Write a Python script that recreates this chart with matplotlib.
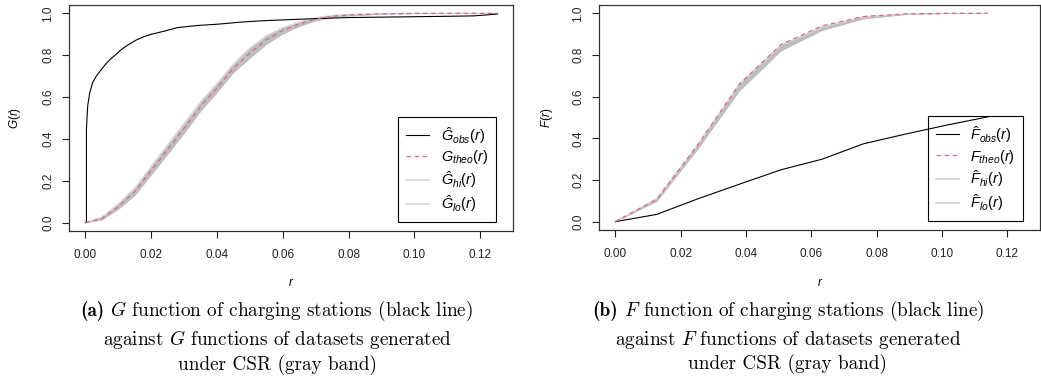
import numpy as np
import matplotlib
matplotlib.use('Agg')
import matplotlib.pyplot as plt
from matplotlib.font_manager import FontProperties
from matplotlib.lines import Line2D

plt.rcParams['font.family'] = ['Liberation Sans', 'DejaVu Sans']
plt.rcParams['mathtext.fontset'] = 'custom'
plt.rcParams['mathtext.rm'] = 'Liberation Sans'
plt.rcParams['mathtext.it'] = 'Liberation Sans:italic'
plt.rcParams['mathtext.bf'] = 'Liberation Sans:bold'

# ---- G function (nearest-neighbour distances) ----
g_obs_r = [0, 0.0003, 0.0003, 0.0007, 0.0013, 0.0022, 0.0033, 0.0045, 0.006, 0.0075,
           0.009, 0.011, 0.013, 0.0155, 0.018, 0.02, 0.024, 0.028, 0.034, 0.04,
           0.047, 0.054, 0.062, 0.07, 0.08, 0.09, 0.1, 0.11, 0.118, 0.1215, 0.1253]
g_obs = [0, 0, 0.45, 0.56, 0.62, 0.67, 0.70, 0.725, 0.755, 0.78,
         0.80, 0.828, 0.85, 0.873, 0.89, 0.9, 0.915, 0.932, 0.942, 0.948,
         0.958, 0.965, 0.97, 0.975, 0.98, 0.982, 0.984, 0.986, 0.988, 0.992, 0.997]

g_r    = [0, 0.005, 0.01, 0.015, 0.02, 0.025, 0.03, 0.035, 0.04, 0.045, 0.05,
          0.055, 0.06, 0.065, 0.07, 0.075, 0.08, 0.09, 0.1, 0.1253]
g_theo = [0, 0.02, 0.077, 0.148, 0.25, 0.35, 0.45, 0.555, 0.643, 0.738, 0.81,
          0.874, 0.919, 0.95, 0.973, 0.986, 0.992, 0.998, 1.0, 1.0]
g_hi   = [0, 0.027, 0.09, 0.166, 0.27, 0.373, 0.474, 0.578, 0.665, 0.758, 0.835,
          0.893, 0.932, 0.959, 0.979, 0.99, 0.995, 0.999, 1.0, 1.0]
g_lo   = [0, 0.013, 0.064, 0.13, 0.228, 0.327, 0.427, 0.532, 0.622, 0.717, 0.786,
          0.852, 0.902, 0.938, 0.965, 0.98, 0.988, 0.996, 0.999, 1.0]

# ---- F function (empty space) ----
f_r    = [0, 0.0127, 0.0253, 0.038, 0.0507, 0.0633, 0.076, 0.0887, 0.1013, 0.114]
f_obs  = [0, 0.035, 0.11, 0.18, 0.249, 0.30, 0.374, 0.42, 0.463, 0.503]
f_theo = [0, 0.107, 0.37, 0.66, 0.85, 0.94, 0.985, 0.997, 1.0, 1.0]
f_hi   = [0, 0.112, 0.372, 0.662, 0.848, 0.935, 0.984, 0.997, 1.0, 1.0]
f_lo   = [0, 0.098, 0.35, 0.628, 0.82, 0.918, 0.974, 0.994, 0.999, 1.0]

xticks = [0.0, 0.02, 0.04, 0.06, 0.08, 0.10, 0.12]
yticks = [0.0, 0.2, 0.4, 0.6, 0.8, 1.0]

cap_tag  = ['(a)', '(b)']
cap_head = [r' $G$ function of charging stations (black line)',
            r' $F$ function of charging stations (black line)']
cap_rest = [r'against $G$ functions of datasets generated' '\n' r'under CSR (gray band)',
            r'against $F$ functions of datasets generated' '\n' r'under CSR (gray band)']

W, H = 1041, 385
fig = plt.figure(figsize=(W / 100, H / 100), dpi=100)

def px(x0, y0, x1, y1):
    return [x0 / W, 1 - y1 / H, (x1 - x0) / W, (y1 - y0) / H]

axG = fig.add_axes(px(69, 5, 513, 231))
axF = fig.add_axes(px(599, 5, 1040, 230))

band = '#BEBEBE'
red = '#E0687E'
cap_size = 13.8

def panel(ax, k, r_obs, obs, r, theo, hi, lo, name, ylab_x, cx, cap_left, cap_mid):
    ax.plot(r, hi, color='#D3D3D3', lw=0.8, zorder=1)
    ax.plot(r, lo, color='#D3D3D3', lw=0.8, zorder=1)
    ax.fill_between(r, lo, hi, color=band, lw=0, zorder=2)
    ax.plot(r_obs, obs, color='black', lw=0.8, zorder=3)
    ax.plot(r, theo, color=red, lw=0.9, ls=(0, (3.5, 3)), zorder=4)

    ax.set_xlim(-0.005, 0.130)
    ax.set_ylim(-0.04, 1.04)
    ax.set_xticks(xticks)
    ax.set_xticklabels(['%.2f' % t for t in xticks])
    ax.set_yticks(yticks)
    ax.set_yticklabels(['%.1f' % t for t in yticks], rotation=90, va='center')
    ax.tick_params(length=5, width=0.8, labelsize=8.5, colors='#222222')
    ax.tick_params(axis='x', pad=8)
    ax.tick_params(axis='y', pad=5.5)
    for s in ax.spines.values():
        s.set_linewidth(0.9)
        s.set_color('#333333')

    fig.text(ylab_x / W, 1 - 118 / H, r'$%s(r)$' % name, rotation=90,
             ha='center', va='center', fontsize=8.5)
    fig.text(cx / W, 1 - 283 / H, r'$r$', ha='center', va='center',
             fontsize=8.5)

    handles = [Line2D([], [], color='black', lw=0.8),
               Line2D([], [], color=red, lw=0.9, ls=(0, (3.5, 3))),
               Line2D([], [], color='#D3D3D3', lw=1.2),
               Line2D([], [], color='#D3D3D3', lw=1.2)]
    labels = [r'$\hat{%s}_{obs}(r)$' % name, r'$%s_{theo}(r)$' % name,
              r'$\hat{%s}_{hi}(r)$' % name, r'$\hat{%s}_{lo}(r)$' % name]
    leg = ax.legend(handles, labels, loc='lower right',
                    bbox_to_anchor=(0.962, 0.04), borderaxespad=0,
                    prop=FontProperties(size=10.5), facecolor='none',
                    edgecolor='black', fancybox=False, framealpha=1,
                    handlelength=1.55, handletextpad=0.8, labelspacing=0.2,
                    borderpad=0.55)
    leg.get_frame().set_linewidth(0.8)

    # caption: bold tag (first line is finished below), then two centred lines
    t1 = fig.text(cap_left / W, 1 - 316 / H, cap_tag[k], ha='left',
                  va='baseline', fontsize=cap_size, family='cmb10')
    fig.text(cap_mid / W, 1 - 351.5 / H, cap_rest[k], ha='center',
             va='center', multialignment='center', fontsize=cap_size,
             family='cmr10', math_fontfamily='cm', linespacing=1.22)
    return t1

tG = panel(axG, 0, g_obs_r, g_obs, g_r, g_theo, g_hi, g_lo, 'G', 15, 291, 80, 277)
tF = panel(axF, 1, f_r, f_obs, f_r, f_theo, f_hi, f_lo, 'F', 547, 820, 592, 788)

# place the rest of each first caption line right after its bold tag
fig.canvas.draw()
rend = fig.canvas.get_renderer()
for k, t in enumerate([tG, tF]):
    bb = t.get_window_extent(rend)
    fig.text(bb.x1 / W, 1 - 316 / H, cap_head[k], ha='left', va='baseline',
             fontsize=cap_size, family='cmr10', math_fontfamily='cm')

fig.savefig('out.png', dpi=100)
